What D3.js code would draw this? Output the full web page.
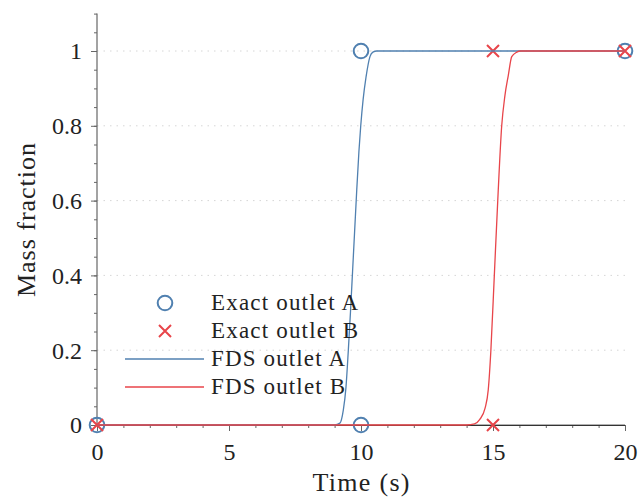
<!DOCTYPE html>
<html><head><meta charset="utf-8">
<script src="https://cdn.jsdelivr.net/npm/d3@7"></script>
<style>
body{margin:0;background:#fff;}
text{font-family:"Liberation Serif","Times New Roman",serif;fill:#222;}
</style></head>
<body><svg id="c" width="640" height="502"></svg>
<script>
// ---- data ----
const exactTimeA = [0, 10, 10, 20];
const exactA     = [0, 0, 1, 1];
const exactTimeB = [0, 15, 15, 20];
const exactB     = [0, 0, 1, 1];
const fdsTimeA = [0, 9.0, 9.2, 9.33, 9.43, 9.52, 9.6, 9.68, 9.76, 9.84, 9.92, 9.99, 10.08, 10.19, 10.34, 10.45, 10.6, 20];
const fdsA     = [0, 0, 0.005, 0.04, 0.1, 0.2, 0.3, 0.41, 0.52, 0.63, 0.73, 0.8, 0.87, 0.93, 0.985, 0.997, 1, 1];
const fdsTimeB = [0, 14.0, 14.3, 14.5, 14.7, 14.82, 14.92, 15.05, 15.18, 15.33, 15.45, 15.58, 15.71, 15.9, 16.05, 20];
const fdsB     = [0, 0, 0.003, 0.015, 0.045, 0.094, 0.2, 0.4, 0.6, 0.8, 0.88, 0.935, 0.985, 0.997, 1, 1];
const xTicks = [0, 5, 10, 15, 20];
const yTicks = [0, 0.2, 0.4, 0.6, 0.8, 1];
const legendLabels = ["Exact outlet A", "Exact outlet B", "FDS outlet A", "FDS outlet B"];
const xLabel = "Time (s)", yLabel = "Mass fraction";

const blue = "#5080b0", red = "#e8454a", axisCol = "#666";
const svg = d3.select("#c");
const x = d3.scaleLinear().domain([0, 20]).range([97, 625]);
const y = d3.scaleLinear().domain([0, 1.1]).range([425, 13.6]);

// grid
svg.append("g").selectAll("line").data(yTicks.filter(d => d > 0)).join("line")
  .attr("x1", x(0)).attr("x2", x(20)).attr("y1", d => y(d)).attr("y2", d => y(d))
  .attr("stroke", "#d6d6d6").attr("stroke-width", 1).attr("stroke-dasharray", "1.5,5");

// axes
const gx = svg.append("g").attr("transform", `translate(0,${y(0)})`);
gx.call(d3.axisBottom(x).tickValues(d3.range(0, 21, 1)).tickSize(3).tickFormat(""));
gx.call(g => g.select(".domain").remove());
const gx2 = svg.append("g").attr("transform", `translate(0,${y(0)})`);
gx2.call(d3.axisBottom(x).tickValues(xTicks).tickSize(6).tickPadding(12).tickFormat(d3.format("d")));
gx2.selectAll("text").attr("font-size", 24).attr("dy", "0.72em").style("font-family", '"Liberation Serif",serif').attr("fill", "#222");
const gy = svg.append("g").attr("transform", `translate(${x(0)},0)`);
gy.call(d3.axisLeft(y).tickValues(d3.range(0, 23).map(i => i * 0.05)).tickSize(3).tickFormat(""));
gy.call(g => g.select(".domain").remove());
const gy2 = svg.append("g").attr("transform", `translate(${x(0)},0)`);
gy2.call(d3.axisLeft(y).tickValues(yTicks).tickSize(6).tickPadding(9).tickFormat(d => d === 0 || d === 1 ? String(d) : d3.format(".1f")(d)));
gy2.selectAll("text").attr("font-size", 24).attr("dy", "0.33em").style("font-family", '"Liberation Serif",serif').attr("fill", "#222");
gy2.select(".domain").remove();
svg.selectAll(".tick line").attr("stroke", axisCol);
// axis lines
svg.append("line").attr("x1", x(0)).attr("x2", x(20)).attr("y1", y(0)).attr("y2", y(0)).attr("stroke", axisCol).attr("stroke-width", 1.2);
svg.append("line").attr("x1", x(0)).attr("x2", x(0)).attr("y1", y(0)).attr("y2", y(1.1)).attr("stroke", axisCol).attr("stroke-width", 1.2);

// labels
svg.append("text").attr("x", 361).attr("y", 491).attr("text-anchor", "middle").attr("font-size", 26)
  .attr("textLength", 97).text(xLabel);
svg.append("text").attr("transform", "translate(35,220) rotate(-90)").attr("text-anchor", "middle").attr("font-size", 26)
  .attr("textLength", 154).text(yLabel);

// markers
const circ = (g, xs, ys) => g.selectAll("circle").data(xs.map((t, i) => [t, ys[i]])).join("circle")
  .attr("cx", d => x(d[0])).attr("cy", d => y(d[1])).attr("r", 7.3)
  .attr("fill", "none").attr("stroke", blue).attr("stroke-width", 2);
const cross = (g, xs, ys, s) => g.selectAll("path").data(xs.map((t, i) => [t, ys[i]])).join("path")
  .attr("d", d => { const cx = x(d[0]), cy = y(d[1]); return `M${cx-s},${cy-s}L${cx+s},${cy+s}M${cx-s},${cy+s}L${cx+s},${cy-s}`; })
  .attr("stroke", red).attr("stroke-width", 2).attr("fill", "none");

circ(svg.append("g"), exactTimeA, exactA);
cross(svg.append("g"), exactTimeB, exactB, 6);

// lines
const line = d3.line().curve(d3.curveMonotoneX).x(d => x(d[0])).y(d => y(d[1]));
svg.append("path").datum(fdsTimeA.map((t, i) => [t, fdsA[i]])).attr("d", line)
  .attr("fill", "none").attr("stroke", blue).attr("stroke-width", 1.3);
svg.append("path").datum(fdsTimeB.map((t, i) => [t, fdsB[i]])).attr("d", line)
  .attr("fill", "none").attr("stroke", red).attr("stroke-width", 1.3);

// legend
const lg = svg.append("g");
const rowY = [303, 331, 359, 387];
lg.append("circle").attr("cx", 165).attr("cy", rowY[0]).attr("r", 7.3).attr("fill", "none").attr("stroke", blue).attr("stroke-width", 2);
lg.append("path").attr("d", `M${165-6},${rowY[1]-6}L${165+6},${rowY[1]+6}M${165-6},${rowY[1]+6}L${165+6},${rowY[1]-6}`).attr("stroke", red).attr("stroke-width", 2);
lg.append("line").attr("x1", 125).attr("x2", 204).attr("y1", rowY[2]).attr("y2", rowY[2]).attr("stroke", blue).attr("stroke-width", 1.3);
lg.append("line").attr("x1", 125).attr("x2", 204).attr("y1", rowY[3]).attr("y2", rowY[3]).attr("stroke", red).attr("stroke-width", 1.3);
const lw = [147, 147, 134, 134];
lg.selectAll("text").data(legendLabels).join("text")
  .attr("x", 211).attr("y", (d, i) => rowY[i] + 6.5).attr("font-size", 23)
  .attr("textLength", (d, i) => lw[i]).text(d => d);
</script></body></html>
